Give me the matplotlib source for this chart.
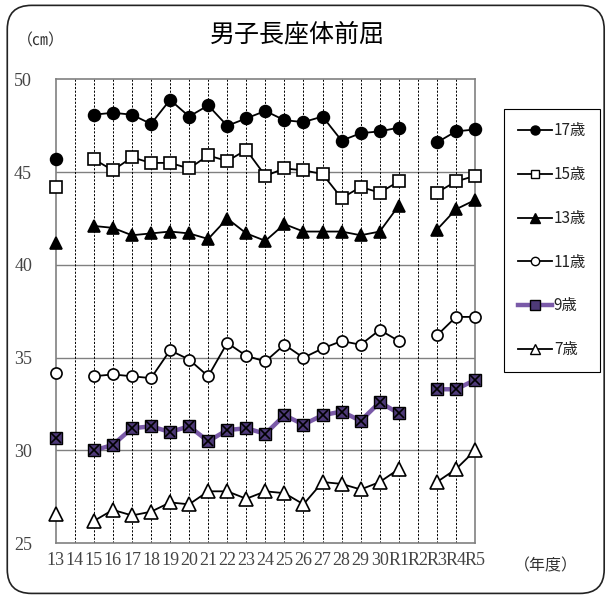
#!/usr/bin/env python3
"""Recreate the 男子長座体前屈 line chart (boys, sit-and-reach by age)."""

import numpy as np
import matplotlib
matplotlib.use("Agg")
import matplotlib.pyplot as plt
from matplotlib.lines import Line2D
from matplotlib.patches import FancyBboxPatch

plt.rcParams["font.family"] = ["Noto Sans CJK JP", "DejaVu Sans"]

nan = np.nan

years = ["13", "14", "15", "16", "17", "18", "19", "20", "21", "22", "23",
         "24", "25", "26", "27", "28", "29", "30", "R1", "R2", "R3", "R4", "R5"]

age17 = [45.7, nan, 48.1, 48.2, 48.1, 47.6, 48.9, 48.0, 48.6, 47.5, 47.9,
         48.3, 47.8, 47.7, 48.0, 46.7, 47.1, 47.2, 47.4, nan, 46.6, 47.2, 47.3]
age15 = [44.2, nan, 45.7, 45.1, 45.8, 45.5, 45.5, 45.2, 45.9, 45.6, 46.2,
         44.8, 45.2, 45.1, 44.9, 43.6, 44.2, 43.9, 44.5, nan, 43.9, 44.5, 44.8]
age13 = [41.2, nan, 42.1, 42.0, 41.6, 41.7, 41.8, 41.7, 41.4, 42.5, 41.7,
         41.3, 42.2, 41.8, 41.8, 41.8, 41.6, 41.8, 43.2, nan, 41.9, 43.0, 43.5]
age11 = [34.2, nan, 34.0, 34.1, 34.0, 33.9, 35.4, 34.9, 34.0, 35.8, 35.1,
         34.8, 35.7, 35.0, 35.5, 35.9, 35.7, 36.5, 35.9, nan, 36.2, 37.2, 37.2]
age9 = [30.7, nan, 30.0, 30.3, 31.2, 31.3, 31.0, 31.3, 30.5, 31.1, 31.2,
        30.9, 31.9, 31.4, 31.9, 32.1, 31.6, 32.6, 32.0, nan, 33.3, 33.3, 33.8]
age7 = [26.6, nan, 26.2, 26.8, 26.5, 26.7, 27.2, 27.1, 27.8, 27.8, 27.4,
        27.8, 27.7, 27.1, 28.3, 28.2, 27.9, 28.3, 29.0, nan, 28.3, 29.0, 30.0]

labels = ["17歳", "15歳", "13歳", "11歳", "9歳", "7歳"]

PURPLE_LINE = "#7a5aa8"
PURPLE_FILL = "#4e3a78"

fig = plt.figure(figsize=(6.06, 5.97), dpi=100)
ax = fig.add_axes([0.0919, 0.09, 0.692, 0.777])

x = np.arange(len(years))

# grid: solid horizontal lines, dashed vertical lines
for yv in [30, 35, 40, 45]:
    ax.axhline(yv, color="#808080", lw=1.0, zorder=1)
for xv in x[1:-1]:
    ax.axvline(xv, color="black", lw=0.7, ls=(0, (2.2, 1.6)), zorder=1)

base = dict(color="black", lw=1.3, mec="black", mew=1.2, zorder=3, clip_on=False)
ax.plot(x, age17, marker="o", mfc="black", ms=8.5, **base)
ax.plot(x, age15, marker="s", mfc="white", ms=8, **base)
ax.plot(x, age13, marker="^", mfc="black", ms=8.5, **base)
ax.plot(x, age11, marker="o", mfc="white", ms=8, **base)
ax.plot(x, age9, color=PURPLE_LINE, lw=3.2, marker="s", ms=8, mfc=PURPLE_FILL,
        mec="black", mew=1.0, zorder=4, clip_on=False)
ax.plot(x, age9, ls="none", marker="x", ms=6.5, mec="black", mew=1.2, zorder=5,
        clip_on=False)
ax.plot(x, age7, marker="^", mfc="white", ms=10, **base)

ax.set_xlim(0, len(years) - 1)
ax.set_ylim(25, 50)
ax.set_yticks([25, 30, 35, 40, 45, 50])
ax.set_xticks(x)
ax.set_xticklabels(years)
ax.tick_params(length=0, colors="#444444", labelsize=13)
ax.tick_params(axis="y", pad=17)
ax.tick_params(axis="x", pad=6)
for lab in ax.get_xticklabels() + ax.get_yticklabels():
    lab.set_fontfamily("Liberation Serif")
for sp in ax.spines.values():
    sp.set_color("#808080")
    sp.set_linewidth(1.2)

# legend
handles = [
    Line2D([], [], color="black", lw=1.3, marker="o", mfc="black", mec="black", ms=6.5),
    Line2D([], [], color="black", lw=1.3, marker="s", mfc="white", mec="black", ms=6),
    Line2D([], [], color="black", lw=1.3, marker="^", mfc="black", mec="black", ms=6.5),
    Line2D([], [], color="black", lw=1.3, marker="o", mfc="white", mec="black", ms=6),
    Line2D([], [], color=PURPLE_LINE, lw=3.2, marker="s", mfc=PURPLE_FILL, mec="black", ms=6.5),
    Line2D([], [], color="black", lw=1.3, marker="^", mfc="white", mec="black", ms=7),
]
leg = fig.legend(handles, labels, loc="upper left", bbox_to_anchor=(0.832, 0.818),
                 fontsize=11, handlelength=2.2, handletextpad=0.15, labelspacing=1.75,
                 borderpad=0.9, borderaxespad=0, fancybox=False, edgecolor="black",
                 framealpha=1)
leg.get_frame().set_linewidth(0.8)
for t in leg.get_texts():
    t.set_color("#222222")

fig.text(0.49, 0.943, "男子長座体前屈", ha="center", va="center", fontsize=18)
fig.text(0.068, 0.932, "（㎝）", ha="center", va="center", fontsize=11.5, color="#333333")
fig.text(0.9, 0.052, "（年度）", ha="center", va="center", fontsize=11.5, color="#333333")

# rounded outer frame
border = FancyBboxPatch((0.012, 0.006), 0.985, 0.985, transform=fig.transFigure,
                        boxstyle="round,pad=0,rounding_size=0.04", fill=False,
                        edgecolor="#222222", lw=1.2)
fig.patches.append(border)

fig.savefig("out.png", dpi=100)
